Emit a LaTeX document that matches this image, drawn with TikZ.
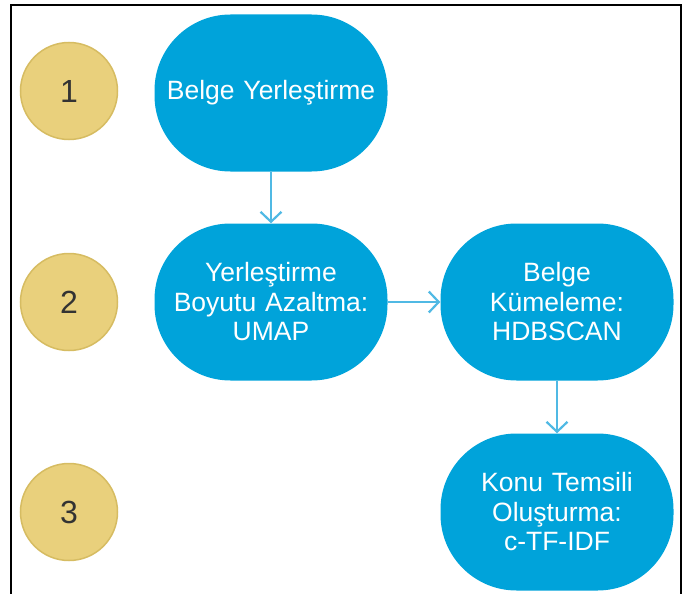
\documentclass[tikz,border=0pt]{standalone}
\usepackage{fontspec}
\setmainfont{Liberation Sans}
\usetikzlibrary{arrows.meta}

\definecolor{stageblue}{RGB}{0,163,218}
\definecolor{linkblue}{RGB}{80,185,228}
\definecolor{phasefill}{RGB}{233,208,124}
\definecolor{phaseline}{RGB}{214,188,98}

\tikzset{
  phase/.style={circle, draw=phaseline, line width=1.5pt, fill=phasefill,
    minimum size=97pt, inner sep=0pt, text=black!80,
    font=\fontsize{32}{32}\selectfont},
  stage/.style={fill=stageblue, rounded corners=76pt, minimum width=233pt,
    minimum height=157pt, text width=225pt, inner sep=0pt, align=center,
    text=white, font=\fontsize{26.5}{29.5}\selectfont},
  link/.style={draw=linkblue, line width=2pt,
    -{Straight Barb[length=10pt,width=21pt,line width=2.2pt]}}
}

\begin{document}
\begin{tikzpicture}[x=1pt,y=-1pt]
\useasboundingbox (0,0) rectangle (688,594);
\draw[line width=2pt] (11,594) -- (11,5) -- (681,5) -- (681,594);

% phase numbers
\node[phase] (phase1) at (69,91) {1};
\node[phase] (phase2) at (69,302) {2};
\node[phase] (phase3) at (69,512) {3};

% pipeline stages
\node[stage] (embed) at (271,93) {Belge Yerleştirme};
\node[stage] (umap) at (271,302) {Yerleştirme\\Boyutu Azaltma:\\UMAP};
\node[stage] (hdbscan) at (557,302) {Belge\\Kümeleme:\\HDBSCAN};
\node[stage] (ctfidf) at (557,512) {Konu Temsili\\Oluşturma:\\c-TF-IDF};

\draw[link] (embed) -- (umap);
\draw[link] (umap) -- (hdbscan);
\draw[link] (hdbscan) -- (ctfidf);
\end{tikzpicture}
\end{document}
